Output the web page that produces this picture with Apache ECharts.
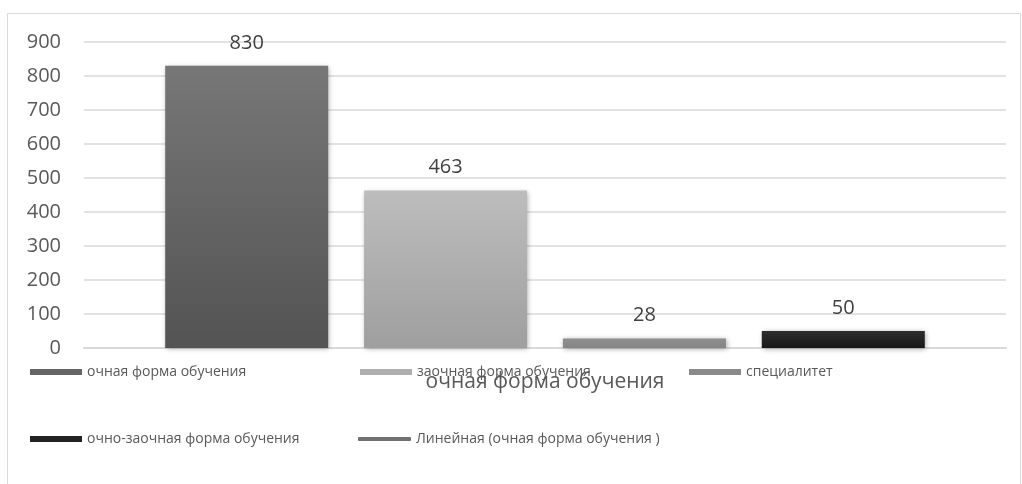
<!DOCTYPE html>
<html>
<head>
<meta charset="utf-8">
<script src="https://cdn.jsdelivr.net/npm/echarts@6/dist/echarts.min.js"></script>
<style>
html,body{margin:0;padding:0;background:#fff;}
#chart{width:1022px;height:484px;}
</style>
</head>
<body>
<div id="chart"></div>
<script>
const categories = ['очная форма обучения'];
const seriesNames = ['очная форма обучения', 'заочная форма обучения', 'специалитет', 'очно-заочная форма обучения'];
const seriesValues = [[830], [463], [28], [50]];
const trendName = 'Линейная (очная форма обучения )';
const yTicks = { min: 0, max: 900, interval: 100 };

const gradients = [
  ['#777777', '#535353'],
  ['#bdbdbd', '#9f9f9f'],
  ['#8e8e8e', '#858585'],
  ['#2e2e2e', '#181818']
];
const FONT = 'Open Sans';

const chart = echarts.init(document.getElementById('chart'));

const series = seriesNames.map((name, i) => ({
  name: name,
  type: 'bar',
  data: seriesValues[i],
  barWidth: 163,
  barGap: '22%',
  itemStyle: {
    color: new echarts.graphic.LinearGradient(0, 0, 0, 1, [
      { offset: 0, color: gradients[i][0] },
      { offset: 1, color: gradients[i][1] }
    ]),
    shadowBlur: 5,
    shadowColor: 'rgba(0,0,0,0.35)',
    shadowOffsetX: 1,
    shadowOffsetY: 1
  },
  label: {
    show: true,
    position: 'top',
    distance: 13,
    color: '#404040',
    fontFamily: FONT,
    fontSize: 20
  }
}));
series.push({
  name: trendName,
  type: 'line',
  data: [],
  itemStyle: { color: '#707070' },
  lineStyle: { color: '#707070', width: 3 }
});

const legendPos = [
  { left: 30, top: 365 },
  { left: 360, top: 365 },
  { left: 689, top: 365 },
  { left: 30, top: 432 },
  { left: 358, top: 432 }
];
const legendColors = ['#656565', '#aeaeae', '#8a8a8a', '#222222', '#707070'];
const allNames = seriesNames.concat([trendName]);
const legends = allNames.map((n, i) => ({
  left: legendPos[i].left,
  top: legendPos[i].top,
  orient: 'horizontal',
  selectedMode: false,
  itemWidth: i === 4 ? 53 : 52,
  itemHeight: i === 4 ? 4 : 6,
  itemGap: 0,
  padding: 0,
  textStyle: { color: '#595959', fontFamily: FONT, fontSize: 14 },
  data: [{ name: n, icon: i === 4 ? 'roundRect' : 'rect', itemStyle: { color: legendColors[i] } }]
}));

chart.setOption({
  animation: false,
  textStyle: { fontFamily: FONT },
  graphic: [{
    type: 'rect',
    shape: { x: 7.5, y: 13.5, width: 1013, height: 480 },
    style: { fill: 'none', stroke: '#d9d9d9', lineWidth: 1 },
    silent: true
  }],
  grid: { left: 84, right: 16, top: 42, bottom: 136, containLabel: false },
  legend: legends,
  xAxis: {
    type: 'category',
    data: categories,
    axisLine: { lineStyle: { color: '#d9d9d9', width: 2 } },
    axisTick: { show: false },
    axisLabel: { color: '#595959', fontFamily: FONT, fontSize: 21, margin: 24 }
  },
  yAxis: {
    type: 'value',
    min: yTicks.min,
    max: yTicks.max,
    interval: yTicks.interval,
    axisLine: { show: false },
    axisTick: { show: false },
    splitLine: { lineStyle: { color: '#d9d9d9', width: 1.5 } },
    axisLabel: { color: '#595959', fontFamily: FONT, fontSize: 20, margin: 23 }
  },
  series: series
});
</script>
</body>
</html>
